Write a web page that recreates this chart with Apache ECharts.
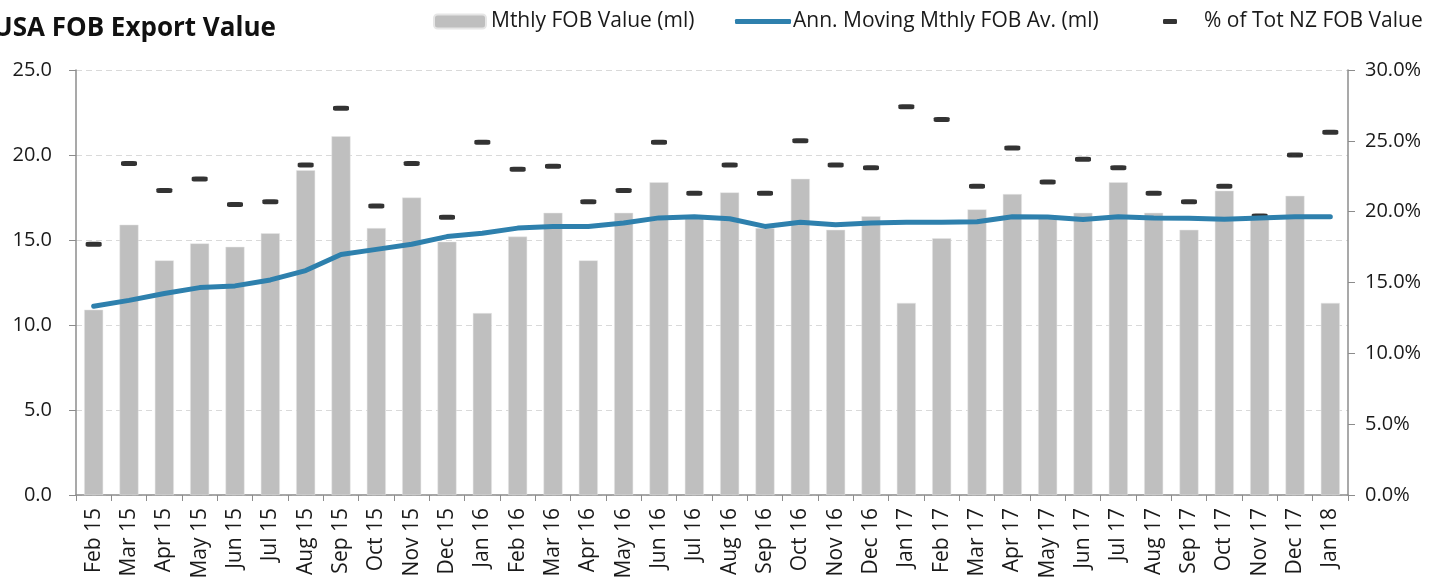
<!DOCTYPE html>
<html>
<head>
<meta charset="utf-8">
<script src="https://cdn.jsdelivr.net/npm/echarts@6/dist/echarts.min.js"></script>
<style>
html,body{margin:0;padding:0;background:#fff;}
#chart{width:1433px;height:579px;}
</style>
</head>
<body>
<div id="chart"></div>
<script>
var categories = ['Feb 15','Mar 15','Apr 15','May 15','Jun 15','Jul 15','Aug 15','Sep 15','Oct 15','Nov 15','Dec 15','Jan 16',
  'Feb 16','Mar 16','Apr 16','May 16','Jun 16','Jul 16','Aug 16','Sep 16','Oct 16','Nov 16','Dec 16','Jan 17',
  'Feb 17','Mar 17','Apr 17','May 17','Jun 17','Jul 17','Aug 17','Sep 17','Oct 17','Nov 17','Dec 17','Jan 18'];
var monthlyFob = [10.9,15.9,13.8,14.8,14.6,15.4,19.1,21.1,15.7,17.5,14.9,10.7,
  15.2,16.6,13.8,16.6,18.4,16.3,17.8,15.7,18.6,15.6,16.4,11.3,
  15.1,16.8,17.7,16.3,16.6,18.4,16.6,15.6,17.9,16.4,17.6,11.3];
var movingAvg = [11.1,11.45,11.85,12.2,12.3,12.65,13.2,14.15,14.45,14.75,15.2,15.4,
  15.7,15.8,15.8,16.0,16.3,16.37,16.25,15.8,16.05,15.9,16.0,16.05,
  16.05,16.07,16.37,16.35,16.2,16.37,16.3,16.28,16.22,16.3,16.37,16.37];
var pctOfTotal = [17.7,23.4,21.5,22.3,20.5,20.7,23.3,27.3,20.4,23.4,19.6,24.9,
  23.0,23.2,20.7,21.5,24.9,21.3,23.3,21.3,25.0,23.3,23.1,27.4,
  26.5,21.8,24.5,22.1,23.7,23.1,21.3,20.7,21.8,19.7,24.0,25.6];
var leftTicks = {min:0, max:25, interval:5};
var rightTicks = {min:0, max:30, interval:5};

var FONT = "'Open Sans', 'Noto Sans', sans-serif";
var chart = echarts.init(document.getElementById('chart'), null, {renderer:'canvas'});
var legendTxt = {fontFamily: FONT, fontSize: 21, color: '#1a1a1a'};
var axisTxt = {fontFamily: FONT, fontSize: 20, color: '#1a1a1a'};
chart.setOption({
  animation: false,
  backgroundColor: '#fff',
  title: {
    text: 'USA FOB Export Value',
    left: -12, top: 11,
    textStyle: {fontFamily: FONT, fontSize: 26, fontWeight: 'bold', color: '#111'}
  },
  legend: [
    {data:['Mthly FOB Value (ml)'], left: 428, top: 6, itemWidth: 52, itemHeight: 14,
     textStyle: Object.assign({}, legendTxt, {padding:[0,0,0,0]})},
    {data:[{name:'Ann. Moving Mthly FOB Av. (ml)', icon:'roundRect'}], left: 730, top: 6, itemWidth: 56, itemHeight: 5,
     textStyle: Object.assign({}, legendTxt, {padding:[0,0,0,-3]})},
    {data:[{name:'% of Tot NZ FOB Value', icon:'roundRect'}], left: 1158, top: 6, itemWidth: 14, itemHeight: 5,
     textStyle: Object.assign({}, legendTxt, {padding:[0,0,0,22]})}
  ],
  grid: {left: 76, right: 85, top: 70, bottom: 84, containLabel: false, outerBoundsMode: 'none'},
  xAxis: {
    type: 'category',
    data: categories,
    boundaryGap: true,
    axisLine: {lineStyle: {color: '#8c8c8c', width: 1.5}},
    axisTick: {show: true, length: 6, alignWithLabel: false, lineStyle: {color: '#8c8c8c'}},
    axisLabel: {fontFamily: FONT, fontSize: 21, color: '#1a1a1a', rotate: 90, margin: 13, interval: 0}
  },
  yAxis: [
    {
      type: 'value', min: leftTicks.min, max: leftTicks.max, interval: leftTicks.interval,
      axisLine: {show: true, lineStyle: {color: '#8c8c8c', width: 1.5}},
      axisTick: {show: true, length: 7, lineStyle: {color: '#8c8c8c'}},
      axisLabel: Object.assign({}, axisTxt, {margin: 24, formatter: function(v){return v.toFixed(1);}}),
      splitLine: {show: true, lineStyle: {color: '#d9d9d9', type: [6,4], width: 1}}
    },
    {
      type: 'value', min: rightTicks.min, max: rightTicks.max, interval: rightTicks.interval,
      position: 'right',
      axisLine: {show: true, lineStyle: {color: '#8c8c8c', width: 1.5}},
      axisTick: {show: true, length: 7, lineStyle: {color: '#8c8c8c'}},
      axisLabel: Object.assign({}, axisTxt, {margin: 17, formatter: function(v){return v.toFixed(1) + '%';}}),
      splitLine: {show: false}
    }
  ],
  series: [
    {
      name: 'Mthly FOB Value (ml)', type: 'bar', data: monthlyFob, yAxisIndex: 0,
      barWidth: 19,
      itemStyle: {color: '#bfbfbf', borderColor: '#e6e6e6', borderWidth: 0.5}
    },
    {
      name: 'Ann. Moving Mthly FOB Av. (ml)', type: 'line', data: movingAvg, yAxisIndex: 0,
      symbol: 'none', smooth: false,
      lineStyle: {color: '#2e80ad', width: 5, cap: 'round', join: 'round'},
      itemStyle: {color: '#2e80ad'}
    },
    {
      name: '% of Tot NZ FOB Value', type: 'scatter', data: pctOfTotal, yAxisIndex: 1,
      symbol: 'roundRect', symbolSize: [16, 5],
      itemStyle: {color: '#000'}
    }
  ]
});
</script>
</body>
</html>
